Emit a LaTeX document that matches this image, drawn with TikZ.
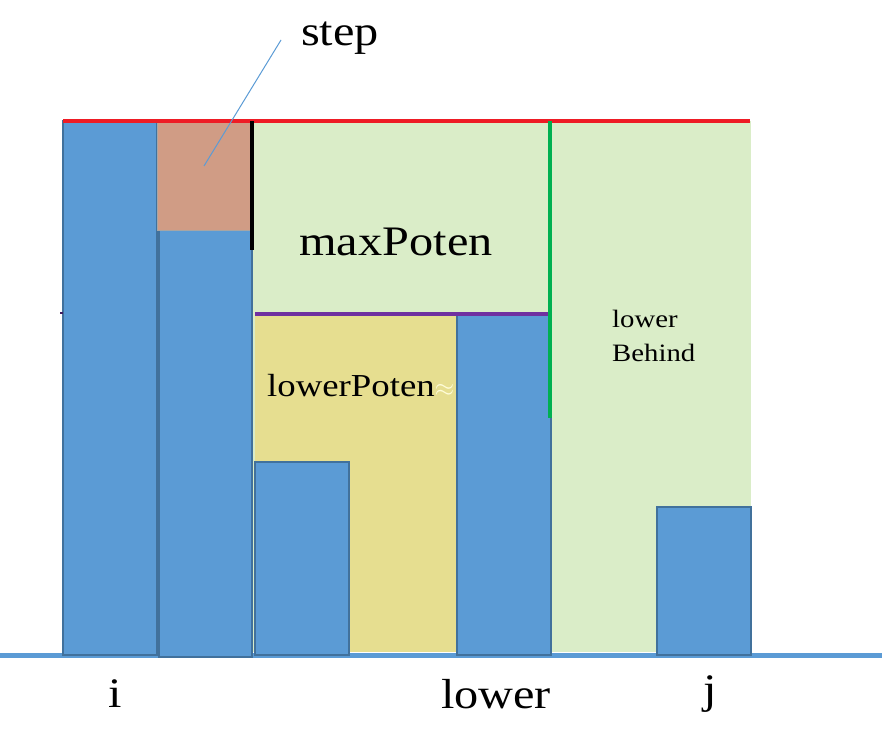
\documentclass[tikz,border=0pt]{standalone}
\usepackage{fontspec}
\setmainfont{Liberation Serif}
\newfontfamily\lblfont[FakeStretch=1.15]{Liberation Serif}
\usetikzlibrary{positioning}
\definecolor{barblue}{HTML}{5B9BD5}
\definecolor{bardraw}{HTML}{41719C}
\definecolor{stepfill}{HTML}{D09C85}
\definecolor{softgreen}{HTML}{DAEDC8}
\definecolor{softyellow}{HTML}{E6DE90}
\definecolor{linepurple}{HTML}{7030A0}
\definecolor{linegreen}{HTML}{00B050}
\definecolor{linered}{HTML}{EE1C25}

\begin{document}
\begin{tikzpicture}[x=1pt, y=-1pt,
  bar/.style={fill=barblue, draw=bardraw, line width=1.2pt},
  stepbox/.style={fill=stepfill, draw=gray!70, line width=1pt},
  limitline/.style={line width=3.5pt},
  lbl/.style={inner sep=0pt, text=black, font=\lblfont\fontsize{#1}{#1}\selectfont},
  leader/.style={draw=barblue, line width=1pt}]
  \useasboundingbox (0,0) rectangle (882,752);
  % areas behind the bars
  \fill[softgreen] (252,121) rectangle (751,652);
  \fill[softyellow] (255,313) rectangle (457,652);
  % ground
  \draw[barblue, line width=5pt] (0,655) -- (882,655);
  % bars
  \draw[bar] (63,121) rectangle (157,655);
  \draw[bar] (159,230) rectangle (252,657);
  \draw[bar] (255,462) rectangle (349,655);
  \draw[bar] (457,315) rectangle (551,655);
  \draw[bar] (657,507) rectangle (751,655);
  \draw[stepbox] (157,121) rectangle (250,230);
  % limit lines
  \draw[limitline, linered] (63,121) -- (750,121);
  \draw[limitline, black] (252,121) -- (252,250);
  \draw[limitline, linepurple] (255,314) -- (549,314);
  \draw[limitline, linegreen] (550,121) -- (550,418);
  \draw[line width=2pt, linepurple!60!black] (60,313) -- (63,313);
  % labels
  \node[lbl=42] (steplbl) at (340,38) {step};
  \coordinate (leadtop) at (281,40);
  \coordinate (stepin) at (204,166);
  \draw[leader] (leadtop) -- (stepin);
  \node[lbl=42] (maxpoten) at (396,242) {maxPoten};
  \node[lbl=32, anchor=west] (lowerpoten) at (267,386) {lowerPoten\textcolor{yellow!15}{$\approx$}};
  \node[lbl=25, font=\lblfont\fontsize{25}{34}\selectfont, align=left, anchor=west] (behind) at (612,336) {lower\\Behind};
  \node[lbl=42] (ilbl) at (115,694) {i};
  \node[lbl=42] (lowerlbl) at (496,694) {lower};
  \node[lbl=42] (jlbl) at (710,694) {j};
\end{tikzpicture}
\end{document}
